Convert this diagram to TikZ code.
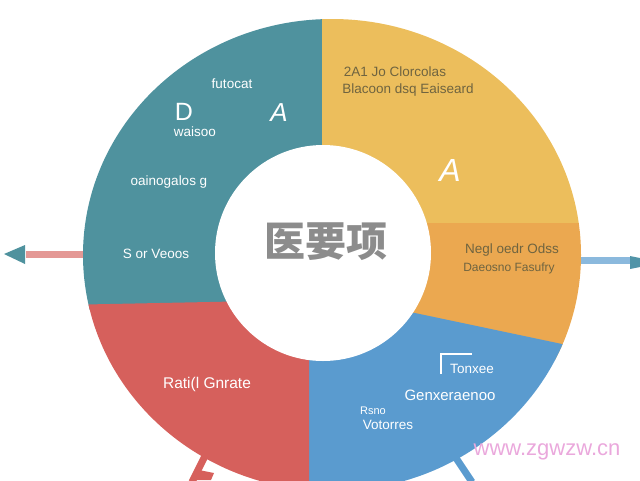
\documentclass[tikz,border=0pt]{standalone}
\usepackage{fontspec}
\setmainfont{Liberation Sans}
\newfontfamily\cjk{Noto Sans CJK SC}
\usetikzlibrary{positioning, arrows}
\definecolor{tealseg}{HTML}{4F929E}
\definecolor{yellowseg}{HTML}{ECBE5C}
\definecolor{orangeseg}{HTML}{EBA850}
\definecolor{blueseg}{HTML}{5A9BCF}
\definecolor{redseg}{HTML}{D6605C}
\definecolor{darklabel}{HTML}{6F6440}
\definecolor{marklabel}{HTML}{EAA8DC}
\newcommand{\seglabel}[3]{\node[font=\fontsize{13.5}{14}\selectfont, #3] (#1) {#2};}
\newcommand{\segarrow}[4]{\draw [line width=#4, #3] (#1) -- (#2);}
\tikzset{
  segtip/.style={draw=none, fill=#1},
  whitelabel/.style={text=white},
  darktext/.style={text=darklabel}
}

\begin{document}
\begin{tikzpicture}[x=1pt, y=-1pt, inner sep=0pt]
\useasboundingbox (0,0) rectangle (640,480);

\coordinate (wheel) at (332,255);
\coordinate (hub) at (323,253);

% arrows sit under the wheel
\coordinate (leftend) at (26,254);
\coordinate (rightend) at (632,260);
\coordinate (redend) at (192,482);
\coordinate (blueend) at (472,482);
\coordinate (leftroot) at (90,254);
\coordinate (rightroot) at (575,260);
\coordinate (redroot) at (208,450);
\coordinate (blueroot) at (452,452);
\segarrow{leftroot}{leftend}{color=redseg!65}{7pt};
\segarrow{rightroot}{rightend}{color=blueseg!70}{7pt};
\segarrow{redroot}{redend}{color=redseg}{7pt};
\segarrow{blueroot}{blueend}{color=blueseg}{7pt};
\fill[segtip=redseg] (199,470) -- (214,473) -- (211,480) -- (195,480) -- cycle;
\fill[segtip=tealseg] (4,254) -- (25,245) -- (25,264) -- cycle;
\fill[segtip=tealseg!80!blueseg] (630,256) -- (640,258) -- (640,267) -- (630,269) -- cycle;

\begin{scope}
\clip (wheel) ellipse (249 and 236);
\fill[tealseg] (60,0) rectangle (322,310);
\fill[yellowseg] (322,0) rectangle (600,223);
\fill[orangeseg] (322,223) rectangle (600,360);
\fill[blueseg] (309,300) -- (415,313) -- (600,352) -- (600,510) -- (309,510) -- cycle;
\fill[redseg] (60,305) -- (309,300) -- (309,510) -- (60,510) -- cycle;
\end{scope}
\fill[white] (hub) circle (108);

\node[font=\cjk\bfseries\fontsize{41}{41}\selectfont, text=black!45] (title) at (326,242) {医要项};

\seglabel{futo}{futocat}{whitelabel, at={(232,84)}};
\node[font=\fontsize{25}{25}\selectfont, whitelabel] (dmark) at (184,112) {D};
\seglabel{waiso}{waisoo}{whitelabel, below=6pt of dmark, xshift=11pt};
\node[font=\itshape\fontsize{26}{26}\selectfont, whitelabel] (amark) at (279,113) {A};
\seglabel{oain}{oainogalos g}{whitelabel, at={(169,182)}};
\seglabel{sor}{S or Veoos}{whitelabel, at={(156,254)}};

\seglabel{yellowa}{2A1 Jo Clorcolas}{darktext, at={(395,72)}};
\seglabel{yellowb}{Blacoon dsq Eaiseard}{darktext, below=6pt of yellowa, xshift=13pt};
\node[font=\itshape\fontsize{32}{32}\selectfont, whitelabel] (ymark) at (450,170) {A};

\seglabel{orangea}{Negl oedr Odss}{darktext, at={(512,250)}};
\seglabel{orangeb}{Daeosno Fasufry}{darktext, font=\fontsize{12}{13}\selectfont, below=6pt of orangea, xshift=-3pt};

\seglabel{redlabel}{Rati(l Gnrate}{whitelabel, font=\fontsize{15.5}{16}\selectfont, at={(207,384)}};

\seglabel{tonx}{Tonxee}{whitelabel, at={(472,369)}};
\seglabel{genx}{Genxeraenoo}{whitelabel, font=\fontsize{15}{16}\selectfont, at={(450,395)}};
\seglabel{rsno}{Rsno}{whitelabel, font=\fontsize{11}{12}\selectfont, at={(373,411)}};
\seglabel{voto}{Votorres}{whitelabel, below=5pt of rsno, xshift=15pt};
\node[draw=none, fill=white, minimum width=32, minimum height=1.5] (tbar) at (456,354) {};
\node[draw=none, fill=white, minimum width=1.5, minimum height=20] (tstem) at (441,364) {};

\node[font=\fontsize{22}{22}\selectfont, text=marklabel] (mark) at (547,452) {www.zgwzw.cn};
\end{tikzpicture}
\end{document}
